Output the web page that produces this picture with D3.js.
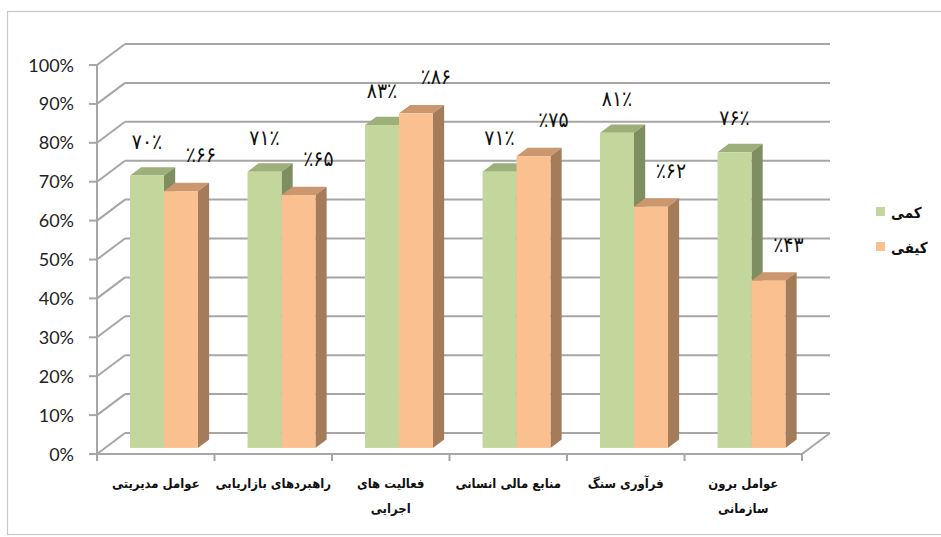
<!DOCTYPE html>
<html><head><meta charset="utf-8">
<script src="https://cdn.jsdelivr.net/npm/d3@7"></script>
<style>
html,body{margin:0;padding:0;background:#fff;}
svg{display:block;}
</style></head>
<body>
<svg id="c" width="941" height="537"></svg>
<script>
// ---- data ----
const categories = [
  ["عوامل مدیریتی"],
  ["راهبردهای بازاریابی"],
  ["فعالیت های", "اجرایی"],
  ["منابع مالی انسانی"],
  ["فرآوری سنگ"],
  ["عوامل برون", "سازمانی"]
];
const seriesNames = ["کمی", "کیفی"];
const quantitative = [70, 71, 83, 71, 81, 76];   // کمی
const qualitative  = [66, 65, 86, 75, 62, 43];   // کیفی
const yTicks = [0, 10, 20, 30, 40, 50, 60, 70, 80, 90, 100];
const faDigits = "۰۱۲۳۴۵۶۷۸۹";

// ---- layout ----
const svg = d3.select("#c");
const left = 97, right = 802, y0 = 454, y100 = 65;
const depth = {dx: 28, dy: -21};
const f1 = 0.29, f2 = 0.69;   // bar front/back depth fractions
const faFont = "'DejaVu Sans Condensed', 'DejaVu Sans', sans-serif";

const catKeys = categories.map((c, i) => i);
const x = d3.scaleBand().domain(catKeys).range([left, right]).padding(0);
const y = d3.scaleLinear().domain([0, 100]).range([y0, y100]);
const bw = x.bandwidth();
const xs = d3.scaleBand().domain([0, 1]).range([bw * 0.212, bw * 0.79]).padding(0);

const colors = [
  {front: "#C3D69B", top: "#9DB07A", side: "#7F8E60"},
  {front: "#FAC090", top: "#CB976E", side: "#A47C59"}
];
const gridColor = "#A6A6A6";

// frame
svg.append("rect").attr("x", 7.5).attr("y", 11.5).attr("width", 945).attr("height", 523)
  .attr("fill", "none").attr("stroke", "#C8C8C8").attr("stroke-width", 1.2);

const g = svg.append("g");

// back wall gridlines + left wall diagonals
yTicks.forEach(t => {
  const yy = y(t);
  g.append("line").attr("x1", left + depth.dx).attr("x2", 830)
    .attr("y1", yy + depth.dy).attr("y2", yy + depth.dy)
    .attr("stroke", gridColor).attr("stroke-width", 2);
  g.append("line").attr("x1", left).attr("y1", yy)
    .attr("x2", left + depth.dx).attr("y2", yy + depth.dy)
    .attr("stroke", gridColor).attr("stroke-width", 2);
  g.append("line").attr("x1", left - 8).attr("x2", left).attr("y1", yy).attr("y2", yy)
    .attr("stroke", gridColor).attr("stroke-width", 2);
  g.append("text").attr("x", 74).attr("y", yy + 6.5)
    .attr("text-anchor", "end")
    .attr("font-family", "Lato, 'Liberation Sans', sans-serif")
    .attr("font-size", 18).attr("fill", "#222")
    .text(t + "%");
});

// floor right diagonal
g.append("line").attr("x1", right).attr("y1", y0)
  .attr("x2", 830).attr("y2", y0 + depth.dy)
  .attr("stroke", gridColor).attr("stroke-width", 2);
// front y axis
g.append("line").attr("x1", left).attr("x2", left).attr("y1", y100).attr("y2", y0 + 1)
  .attr("stroke", gridColor).attr("stroke-width", 2);
// x axis
g.append("line").attr("x1", left).attr("x2", right).attr("y1", y0).attr("y2", y0)
  .attr("stroke", gridColor).attr("stroke-width", 2);
const bounds = catKeys.map(k => x(k)).concat([right]);
bounds.forEach(bx => {
  g.append("line").attr("x1", bx).attr("x2", bx).attr("y1", y0).attr("y2", y0 + 7)
    .attr("stroke", gridColor).attr("stroke-width", 2);
});

// bars
const fdx1 = depth.dx * f1, fdy1 = depth.dy * f1;
const ddx = depth.dx * (f2 - f1), ddy = depth.dy * (f2 - f1);
const series = [quantitative, qualitative];
function toFa(n) { return String(n).split("").map(ch => faDigits[+ch]).join(""); }

catKeys.forEach(k => {
  series.forEach((vals, s) => {
    const v = vals[k];
    const x0 = x(k) + xs(s) + fdx1;
    const x1 = x0 + xs.bandwidth();
    const yb = y(0) + fdy1;
    const yt = y(v) + fdy1;
    const c = colors[s];
    const bg = g.append("g");
    bg.append("polygon").attr("points", [
      [x0, yt], [x1, yt], [x1 + ddx, yt + ddy], [x0 + ddx, yt + ddy]
    ].map(p => p.join(",")).join(" ")).attr("fill", c.top);
    bg.append("polygon").attr("points", [
      [x1, yt], [x1 + ddx, yt + ddy], [x1 + ddx, yb + ddy], [x1, yb]
    ].map(p => p.join(",")).join(" ")).attr("fill", c.side);
    bg.append("rect").attr("x", x0).attr("y", yt).attr("width", x1 - x0).attr("height", yb - yt)
      .attr("fill", c.front);
  });
});

// data labels
catKeys.forEach(k => {
  series.forEach((vals, s) => {
    const v = vals[k];
    const cx = x(k) + xs(s) + fdx1 + xs.bandwidth() / 2 + (s === 1 ? 20 : 0);
    const yt = y(v) + fdy1;
    const txt = s === 0 ? toFa(v) + "٪" : "٪" + toFa(v);
    svg.append("text").attr("x", cx).attr("y", yt - (s === 0 ? 27 : 29))
      .attr("text-anchor", "middle")
      .attr("direction", "ltr").attr("unicode-bidi", "bidi-override")
      .attr("font-family", faFont)
      .attr("font-size", 21).attr("fill", "#111")
      .text(txt);
  });
});

// category labels
catKeys.forEach(k => {
  const cx = x(k) + bw / 2;
  categories[k].forEach((line, li) => {
    svg.append("text").attr("x", cx).attr("y", 488 + li * 25)
      .attr("text-anchor", "middle").attr("direction", "rtl")
      .attr("font-family", faFont)
      .attr("font-size", 13).attr("font-weight", "bold").attr("fill", "#111")
      .text(line);
  });
});

// legend
seriesNames.forEach((name, i) => {
  const ly = 207 + i * 35;
  svg.append("rect").attr("x", 876).attr("y", ly).attr("width", 9).attr("height", 9)
    .attr("fill", colors[i].front);
  svg.append("text").attr("x", 891).attr("y", ly + 11)
    .attr("text-anchor", "start")
    .attr("font-family", faFont)
    .attr("font-size", 15).attr("font-weight", "bold").attr("fill", "#111")
    .text(name);
});
</script>
</body></html>
